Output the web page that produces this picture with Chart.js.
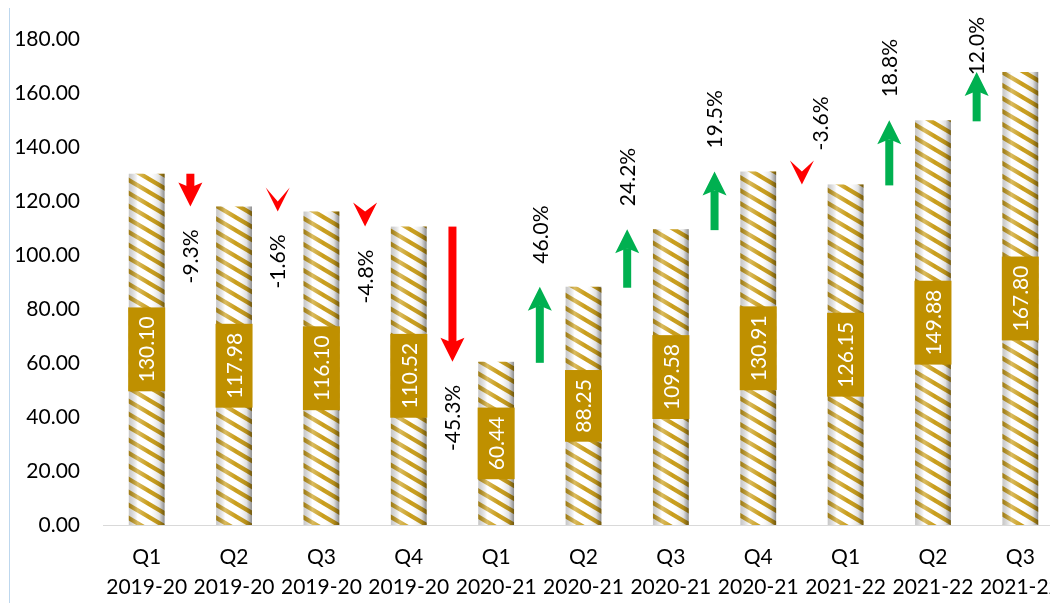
<!DOCTYPE html>
<html>
<head>
<meta charset="utf-8">
<script src="https://cdn.jsdelivr.net/npm/chart.js@4.4.0/dist/chart.umd.min.js"></script>
<style>
html, body { margin: 0; padding: 0; background: #fff; overflow: hidden; }
#wrap { position: relative; width: 1050px; height: 603px; overflow: hidden; }
#edge { position: absolute; left: 9px; top: 8px; width: 1px; height: 595px; background: #bdd7ee; }
canvas { position: absolute; left: 0; top: 0; }
</style>
</head>
<body>
<div id="wrap"><div id="edge"></div><canvas id="myChart" width="1064" height="603"></canvas></div>
<script>
var quarters = ['Q1', 'Q2', 'Q3', 'Q4', 'Q1', 'Q2', 'Q3', 'Q4', 'Q1', 'Q2', 'Q3'];
var years = ['2019-20', '2019-20', '2019-20', '2019-20', '2020-21', '2020-21', '2020-21', '2020-21', '2021-22', '2021-22', '2021-22'];
var values = [130.10, 117.98, 116.10, 110.52, 60.44, 88.25, 109.58, 130.91, 126.15, 149.88, 167.80];
var changes = ['-9.3%', '-1.6%', '-4.8%', '-45.3%', '46.0%', '24.2%', '19.5%', '-3.6%', '18.8%', '12.0%'];
var yTicks = [0, 20, 40, 60, 80, 100, 120, 140, 160, 180];

var FONT = 'Lato, "Open Sans", sans-serif';

// gold diagonal stripes
function stripes() {
	var c = document.createElement('canvas');
	var W = 22, H = 13;
	c.width = W; c.height = H;
	var g = c.getContext('2d');
	g.fillStyle = '#ffffff';
	g.fillRect(0, 0, W, H);
	g.strokeStyle = '#c99d1a';
	g.lineWidth = 4.3;
	for (var k = -1; k <= 1; k++) {
		g.beginPath();
		g.moveTo(-W, k * H - H);
		g.lineTo(2 * W, k * H + 2 * H);
		g.stroke();
	}
	return g.createPattern(c, 'repeat');
}

var decor = {
	id: 'decor',
	afterDatasetsDraw: function(chart) {
		var ctx = chart.ctx;
		var meta = chart.getDatasetMeta(0);
		var ys = chart.scales.y;

		// cylinder shading
		meta.data.forEach(function(bar) {
			var p = bar.getProps(['x', 'y', 'base', 'width'], true);
			var l = p.x - p.width / 2;
			var gr = ctx.createLinearGradient(l, 0, l + p.width, 0);
			gr.addColorStop(0, 'rgba(0,0,0,0.22)');
			gr.addColorStop(0.25, 'rgba(255,255,255,0.3)');
			gr.addColorStop(0.55, 'rgba(255,255,255,0)');
			gr.addColorStop(0.85, 'rgba(0,0,0,0.12)');
			gr.addColorStop(1, 'rgba(0,0,0,0.45)');
			ctx.fillStyle = gr;
			ctx.fillRect(l, p.y, p.width, p.base - p.y);
		});

		// value boxes
		ctx.font = '21px ' + FONT;
		ctx.textAlign = 'center';
		ctx.textBaseline = 'middle';
		meta.data.forEach(function(bar, i) {
			var p = bar.getProps(['x', 'y', 'base'], true);
			var txt = values[i].toFixed(2);
			var tw = ctx.measureText(txt).width;
			ctx.save();
			ctx.translate(p.x, (p.y + p.base) / 2);
			ctx.rotate(-Math.PI / 2);
			ctx.fillStyle = '#bf9000';
			ctx.fillRect(-tw / 2 - 9, -18.5, tw + 18, 37);
			ctx.fillStyle = '#ffffff';
			ctx.fillText(txt, 0, 1);
			ctx.restore();
		});

		// change arrows and labels
		var headLen = 24, headHalf = 12, shaftHalf = 4;
		for (var i = 0; i < changes.length; i++) {
			var x = (meta.data[i].x + meta.data[i + 1].x) / 2;
			var y0 = ys.getPixelForValue(values[i]);
			var y1 = ys.getPixelForValue(values[i + 1]);
			var dir = y1 > y0 ? 1 : -1;
			var len = Math.abs(y1 - y0);
			var baseY = y1 - dir * headLen;
			var notch = len >= headLen ? headLen - 5 : Math.max(len, 10);
			var notchY = y1 - dir * notch;
			ctx.fillStyle = dir > 0 ? '#ff0000' : '#00b050';
			if (len > notch) {
				ctx.fillRect(x - shaftHalf, Math.min(y0, notchY), shaftHalf * 2, Math.abs(notchY - y0) + 1);
			}
			ctx.beginPath();
			ctx.moveTo(x, y1);
			ctx.lineTo(x - headHalf, baseY);
			ctx.lineTo(x, notchY);
			ctx.lineTo(x + headHalf, baseY);
			ctx.closePath();
			ctx.fill();

			var tw2 = ctx.measureText(changes[i]).width;
			var cy, lx = x;
			if (i === 7) {
				// this one sits above its small arrow
				cy = baseY - 10 - tw2 / 2;
				lx = x + 18;
			} else {
				cy = y1 + dir * (23 + tw2 / 2);
			}
			// keep inside the top edge
			cy = Math.max(cy, 17 + tw2 / 2);
			ctx.save();
			ctx.translate(lx, cy);
			ctx.rotate(-Math.PI / 2);
			ctx.fillStyle = '#000000';
			ctx.fillText(changes[i], 0, 1);
			ctx.restore();
		}
	}
};

var ctx = document.getElementById('myChart').getContext('2d');
new Chart(ctx, {
	type: 'bar',
	data: {
		labels: quarters.map(function(q, i) { return [q, years[i]]; }),
		datasets: [{
			data: values,
			backgroundColor: stripes(),
			borderWidth: 0,
			barPercentage: 0.41,
			categoryPercentage: 1
		}]
	},
	options: {
		responsive: false,
		animation: false,
		devicePixelRatio: 1,
		layout: { padding: { top: 39, right: 0, bottom: 0, left: 0 } },
		plugins: { legend: { display: false }, tooltip: { enabled: false } },
		scales: {
			x: {
				grid: { display: false, drawTicks: false },
				border: { display: true, color: '#d9d9d9', width: 1 },
				ticks: { color: '#000', font: { family: FONT, size: 21, lineHeight: 1.4 }, padding: 18, maxRotation: 0, autoSkip: false },
				afterFit: function(s) { s.height = 78; s.paddingLeft = 0; s.paddingRight = 0; }
			},
			y: {
				min: 0,
				max: 180,
				grid: { display: false, drawTicks: false },
				border: { display: false },
				ticks: {
					color: '#000',
					font: { family: FONT, size: 21 },
					padding: 23,
					callback: function(v) { return Number(v).toFixed(2); }
				},
				afterBuildTicks: function(s) { s.ticks = yTicks.map(function(v) { return { value: v }; }); },
				afterFit: function(s) { s.width = 103; }
			}
		}
	},
	plugins: [decor]
});
</script>
</body>
</html>
